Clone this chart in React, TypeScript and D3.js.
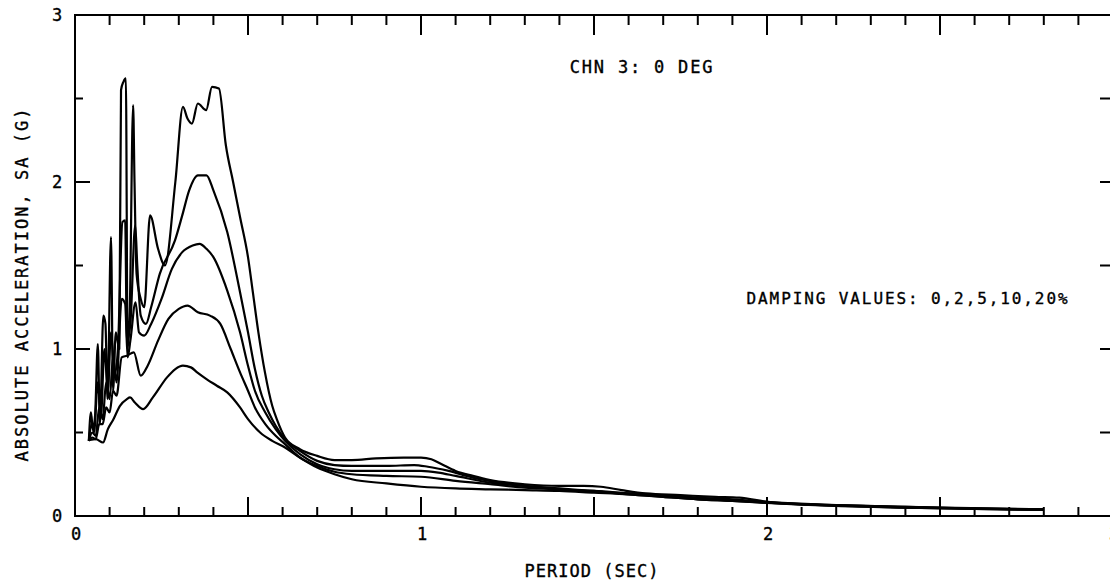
import React from "react";
import * as d3 from "d3";

// response spectra, [period (sec), SA (g)] per damping value
const damping0: [number, number][] = [
  [0.040, 0.45], [0.046, 0.62], [0.052, 0.52], [0.058, 0.60], [0.066, 1.03], [0.072, 0.55],
  [0.082, 1.20], [0.088, 1.15], [0.094, 0.70], [0.104, 1.67], [0.110, 0.75], [0.118, 1.10],
  [0.128, 1.00], [0.133, 2.55], [0.140, 2.60], [0.147, 2.62], [0.152, 1.00], [0.158, 1.20],
  [0.168, 2.46], [0.172, 2.00], [0.178, 1.45], [0.190, 1.30], [0.200, 1.25], [0.217, 1.80],
  [0.240, 1.60], [0.260, 1.50], [0.290, 2.00], [0.312, 2.45], [0.325, 2.38], [0.338, 2.35],
  [0.355, 2.47], [0.379, 2.43], [0.396, 2.57], [0.416, 2.56], [0.436, 2.22], [0.457, 2.00],
  [0.477, 1.79], [0.500, 1.55], [0.514, 1.34], [0.530, 1.10], [0.549, 0.86], [0.570, 0.66],
  [0.584, 0.575], [0.607, 0.47], [0.65, 0.40], [0.70, 0.36], [0.75, 0.335], [0.80, 0.335],
  [0.87, 0.345], [0.95, 0.35], [1.0, 0.35], [1.03, 0.34], [1.06, 0.31], [1.10, 0.27],
  [1.15, 0.24], [1.20, 0.215], [1.30, 0.19], [1.40, 0.18], [1.47, 0.18], [1.52, 0.175],
  [1.58, 0.155], [1.65, 0.135], [1.75, 0.125], [1.85, 0.115], [1.92, 0.11], [2.0, 0.085],
  [2.1, 0.07], [2.3, 0.06], [2.5, 0.05], [2.8, 0.04],
];

const damping2: [number, number][] = [
  [0.040, 0.45], [0.048, 0.55], [0.055, 0.50], [0.066, 0.80], [0.075, 0.60], [0.085, 1.00],
  [0.095, 0.75], [0.104, 1.10], [0.115, 0.85], [0.124, 1.00], [0.137, 1.76], [0.145, 1.77],
  [0.150, 1.05], [0.160, 1.15], [0.174, 1.74], [0.180, 1.50], [0.190, 1.20], [0.205, 1.15],
  [0.220, 1.25], [0.245, 1.45], [0.289, 1.65], [0.31, 1.80], [0.33, 1.95], [0.355, 2.04],
  [0.38, 2.04], [0.40, 1.95], [0.44, 1.70], [0.477, 1.34], [0.50, 1.10], [0.52, 0.88],
  [0.54, 0.72], [0.56, 0.62], [0.58, 0.54], [0.607, 0.46], [0.65, 0.39], [0.70, 0.33],
  [0.75, 0.305], [0.80, 0.30], [0.90, 0.30], [0.98, 0.305], [1.02, 0.295], [1.08, 0.27],
  [1.15, 0.23], [1.2, 0.21], [1.3, 0.18], [1.4, 0.165], [1.5, 0.15], [1.6, 0.135],
  [1.7, 0.125], [1.8, 0.11], [1.9, 0.10], [2.0, 0.085], [2.2, 0.065], [2.4, 0.055],
  [2.6, 0.045], [2.8, 0.04],
];

const damping5: [number, number][] = [
  [0.040, 0.45], [0.05, 0.50], [0.06, 0.48], [0.07, 0.65], [0.08, 0.58], [0.09, 0.80],
  [0.10, 0.70], [0.11, 0.95], [0.12, 0.80], [0.135, 1.30], [0.145, 1.27], [0.152, 0.95],
  [0.16, 1.05], [0.175, 1.28], [0.185, 1.10], [0.20, 1.08], [0.22, 1.15], [0.25, 1.30],
  [0.28, 1.48], [0.31, 1.58], [0.34, 1.62], [0.36, 1.63], [0.38, 1.60], [0.40, 1.55],
  [0.44, 1.35], [0.477, 1.10], [0.50, 0.90], [0.52, 0.75], [0.55, 0.62], [0.58, 0.52],
  [0.607, 0.45], [0.65, 0.37], [0.70, 0.31], [0.75, 0.28], [0.80, 0.27], [0.9, 0.27],
  [1.0, 0.27], [1.05, 0.26], [1.1, 0.24], [1.2, 0.20], [1.3, 0.18], [1.4, 0.16],
  [1.5, 0.15], [1.6, 0.135], [1.7, 0.12], [1.8, 0.105], [1.9, 0.095], [2.0, 0.08],
  [2.2, 0.065], [2.4, 0.052], [2.6, 0.045], [2.8, 0.038],
];

const damping10: [number, number][] = [
  [0.040, 0.45], [0.05, 0.47], [0.06, 0.46], [0.07, 0.55], [0.08, 0.55], [0.09, 0.65],
  [0.10, 0.62], [0.11, 0.75], [0.12, 0.72], [0.135, 0.95], [0.15, 0.96], [0.17, 0.98],
  [0.19, 0.84], [0.21, 0.90], [0.24, 1.05], [0.27, 1.18], [0.30, 1.24], [0.325, 1.26],
  [0.355, 1.22], [0.39, 1.20], [0.42, 1.15], [0.45, 1.00], [0.477, 0.86], [0.50, 0.75],
  [0.52, 0.65], [0.55, 0.55], [0.58, 0.48], [0.607, 0.43], [0.65, 0.35], [0.70, 0.30],
  [0.75, 0.265], [0.80, 0.25], [0.9, 0.24], [1.0, 0.235], [1.1, 0.21], [1.2, 0.19],
  [1.3, 0.17], [1.4, 0.16], [1.5, 0.145], [1.6, 0.13], [1.7, 0.115], [1.8, 0.10],
  [1.9, 0.09], [2.0, 0.08], [2.2, 0.062], [2.4, 0.05], [2.6, 0.043], [2.8, 0.037],
];

const damping20: [number, number][] = [
  [0.043, 0.455], [0.06, 0.46], [0.081, 0.44], [0.095, 0.52], [0.11, 0.575], [0.13, 0.66],
  [0.15, 0.70], [0.159, 0.71], [0.173, 0.68], [0.197, 0.64], [0.225, 0.71], [0.266, 0.83],
  [0.290, 0.88], [0.312, 0.90], [0.335, 0.89], [0.353, 0.86], [0.38, 0.82], [0.41, 0.78],
  [0.44, 0.74], [0.477, 0.65], [0.50, 0.58], [0.535, 0.50], [0.57, 0.45], [0.607, 0.41],
  [0.65, 0.35], [0.70, 0.29], [0.75, 0.25], [0.80, 0.22], [0.9, 0.195], [1.0, 0.175],
  [1.1, 0.165], [1.2, 0.16], [1.3, 0.155], [1.4, 0.15], [1.5, 0.14], [1.6, 0.13],
  [1.7, 0.115], [1.8, 0.10], [1.9, 0.09], [2.0, 0.078], [2.2, 0.06], [2.4, 0.05],
  [2.6, 0.042], [2.8, 0.036],
];

const dampingValues = [0, 2, 5, 10, 20];
const xTickLabels = ["0", "1", "2", "3"];
const yTickLabels = ["0", "1", "2", "3"];

const W = 1110;
const H = 582;
const FONT = "'DejaVu Sans Mono', monospace";

export default function App() {
  const x = d3.scaleLinear().domain([0, 3]).range([75, 1113]);
  const y = d3.scaleLinear().domain([0, 3]).range([516, 15]);

  const line = d3
    .line<[number, number]>()
    .x((d) => x(d[0]))
    .y((d) => y(d[1]))
    .curve(d3.curveMonotoneX);

  const curves = [damping0, damping2, damping5, damping10, damping20];

  // tick positions
  const xMinor = d3.range(1, 30).map((i) => i / 10);
  const yMinor = d3.range(1, 6).map((i) => i / 2);

  // plotter-ish text: thin outline to thicken strokes like the scan
  const textProps = {
    fontFamily: FONT,
    fill: "#000",
    stroke: "#000",
    strokeWidth: 0.35,
  };

  return (
    <svg
      width={W}
      height={H}
      style={{ position: "absolute", left: 0, top: 0, background: "#fff" }}
    >
      <rect x={0} y={0} width={W} height={H} fill="#fff" />

      {/* frame */}
      <rect
        x={x(0)}
        y={y(3)}
        width={x(3) - x(0)}
        height={y(0) - y(3)}
        fill="none"
        stroke="#000"
        strokeWidth={2}
      />

      {/* bottom & top ticks */}
      {xMinor.map((t, i) => {
        const major = Math.round(t * 10) % 5 === 0;
        return (
          <g key={"xt" + i} stroke="#000" strokeWidth={2}>
            <line x1={x(t)} x2={x(t)} y1={y(0)} y2={y(0) - (major ? 19 : 9)} />
            <line x1={x(t)} x2={x(t)} y1={y(3)} y2={y(3) + (major ? 20 : 10)} />
          </g>
        );
      })}

      {/* left & right ticks */}
      {yMinor.map((v, i) => {
        const major = Number.isInteger(v);
        return (
          <g key={"yt" + i} stroke="#000" strokeWidth={2}>
            <line x1={x(0)} x2={x(0) + (major ? 15 : 8)} y1={y(v)} y2={y(v)} />
            <line x1={x(3)} x2={x(3) - 13} y1={y(v)} y2={y(v)} />
          </g>
        );
      })}

      {/* tick labels */}
      {yTickLabels.map((l, i) => (
        <text key={"yl" + i} x={57} y={y(i) + 6} textAnchor="middle" fontSize={17} {...textProps}>
          {l}
        </text>
      ))}
      {xTickLabels.map((l, i) => (
        <text key={"xl" + i} x={x(i) + 1} y={540} textAnchor="middle" fontSize={17} {...textProps}>
          {l}
        </text>
      ))}

      {/* spectra */}
      {curves.map((c, i) => (
        <path
          key={"c" + dampingValues[i]}
          d={line(c) || ""}
          fill="none"
          stroke="#000"
          strokeWidth={2.2}
          strokeLinejoin="round"
        />
      ))}

      {/* annotations */}
      <text x={642} y={73} textAnchor="middle" fontSize={17} letterSpacing={1.8} {...textProps}>
        CHN 3: 0 DEG
      </text>
      <text x={908} y={304} textAnchor="middle" fontSize={16} letterSpacing={1.9} {...textProps}>
        {"DAMPING VALUES: " + dampingValues.join(",") + "%"}
      </text>
      <text x={592} y={577} textAnchor="middle" fontSize={17} letterSpacing={1} {...textProps}>
        PERIOD (SEC)
      </text>
      <text
        transform={`translate(28,284) rotate(-90)`}
        textAnchor="middle"
        fontSize={17}
        letterSpacing={2}
        {...textProps}
      >
        ABSOLUTE ACCELERATION, SA (G)
      </text>
    </svg>
  );
}
